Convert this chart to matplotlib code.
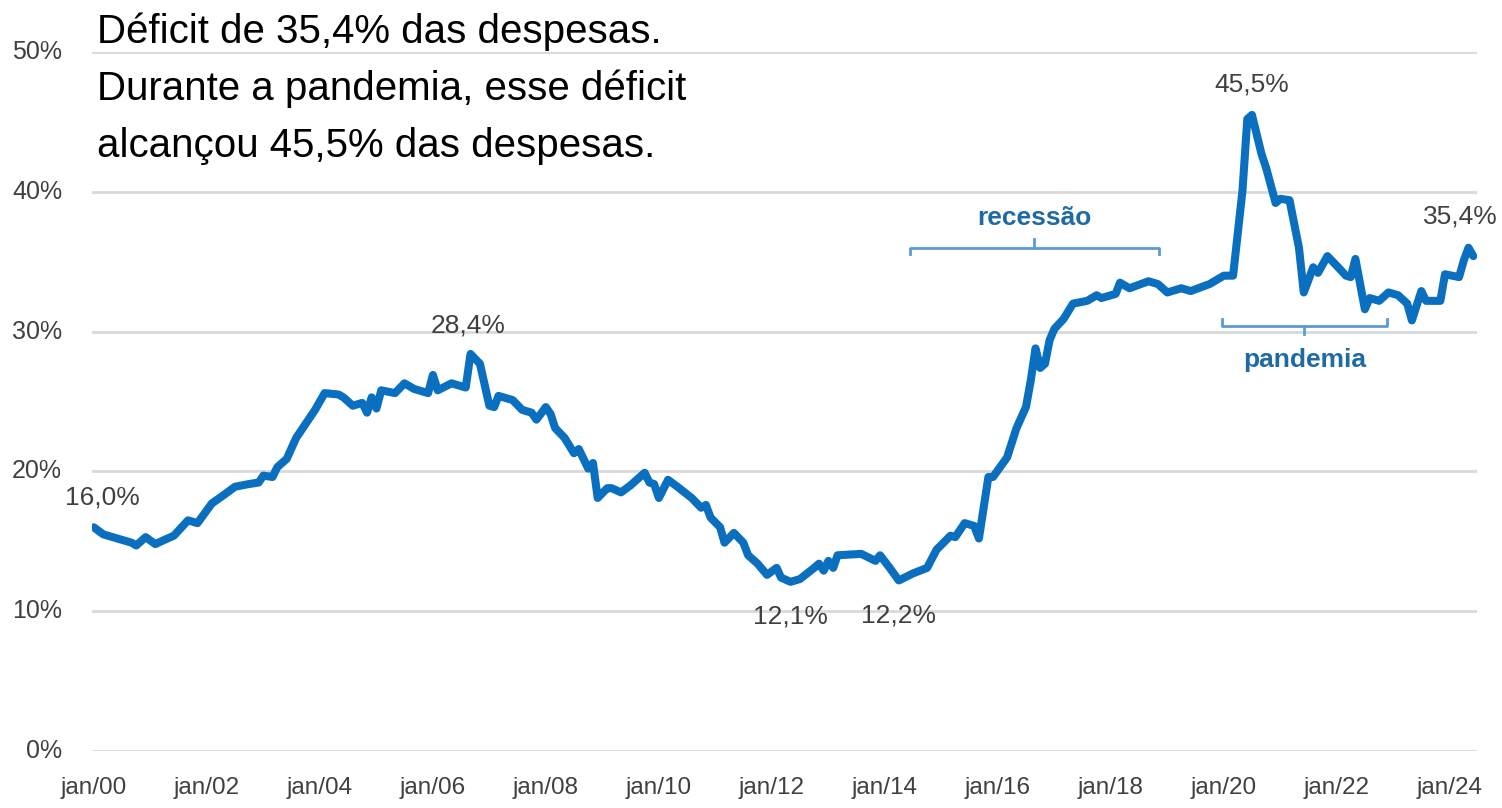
"""Déficit como % das despesas, série mensal 2000-2024."""

import matplotlib

matplotlib.use("Agg")
import matplotlib.pyplot as plt
import pandas as pd

# Valores (mês, % das despesas)
months = [
    "2000-01", "2000-03", "2000-05", "2000-09", "2000-10", "2000-12",
    "2001-02", "2001-04", "2001-06", "2001-09", "2001-11",
    "2002-02", "2002-05", "2002-07", "2002-10", "2002-12",
    "2003-01", "2003-03", "2003-04", "2003-06", "2003-08", "2003-10", "2003-12",
    "2004-02", "2004-05", "2004-06", "2004-08", "2004-10", "2004-11", "2004-12",
    "2005-01", "2005-02", "2005-05", "2005-07", "2005-09", "2005-12",
    "2006-01", "2006-02", "2006-05", "2006-08", "2006-09", "2006-11",
    "2007-01", "2007-02", "2007-03", "2007-06", "2007-08", "2007-10", "2007-11",
    "2008-01", "2008-02", "2008-03", "2008-05", "2008-07", "2008-08", "2008-10",
    "2008-11", "2008-12",
    "2009-02", "2009-03", "2009-05", "2009-07", "2009-10", "2009-11", "2009-12",
    "2010-01", "2010-03", "2010-05", "2010-08", "2010-10", "2010-11", "2010-12",
    "2011-02", "2011-03", "2011-05", "2011-07", "2011-08", "2011-10", "2011-12",
    "2012-02", "2012-03", "2012-05", "2012-07", "2012-10", "2012-11", "2012-12",
    "2013-01", "2013-02", "2013-03", "2013-08", "2013-11", "2013-12",
    "2014-02", "2014-04", "2014-07", "2014-10", "2014-12",
    "2015-03", "2015-04", "2015-06", "2015-08", "2015-09", "2015-11", "2015-12",
    "2016-03", "2016-05", "2016-07", "2016-08", "2016-09", "2016-10", "2016-11",
    "2016-12",
    "2017-01", "2017-03", "2017-05", "2017-08", "2017-10", "2017-11",
    "2018-02", "2018-03", "2018-05", "2018-09", "2018-11",
    "2019-01", "2019-04", "2019-06", "2019-10",
    "2020-01", "2020-03", "2020-05", "2020-06", "2020-07", "2020-09", "2020-10",
    "2020-12",
    "2021-01", "2021-03", "2021-05", "2021-06", "2021-08", "2021-09", "2021-11",
    "2022-01", "2022-03", "2022-04", "2022-05", "2022-07", "2022-08", "2022-10",
    "2022-12",
    "2023-02", "2023-04", "2023-05", "2023-07", "2023-08", "2023-11", "2023-12",
    "2024-03", "2024-04", "2024-05", "2024-06",
]
deficit = [
    16.0, 15.5, 15.3, 14.9, 14.7, 15.3,
    14.8, 15.1, 15.4, 16.5, 16.3,
    17.7, 18.4, 18.9, 19.1, 19.2,
    19.7, 19.6, 20.3, 20.9, 22.4, 23.4, 24.4,
    25.6, 25.5, 25.3, 24.7, 24.9, 24.2, 25.3,
    24.5, 25.8, 25.6, 26.3, 25.9, 25.6,
    26.9, 25.8, 26.3, 26.0, 28.4, 27.7,
    24.7, 24.6, 25.4, 25.1, 24.4, 24.2, 23.7,
    24.6, 24.1, 23.1, 22.4, 21.3, 21.6, 20.2,
    20.6, 18.1,
    18.8, 18.8, 18.5, 19.0, 19.9, 19.2, 19.1,
    18.1, 19.4, 18.9, 18.1, 17.4, 17.6, 16.7,
    16.0, 14.9, 15.6, 14.9, 14.0, 13.4, 12.6,
    13.1, 12.4, 12.1, 12.3, 13.1, 13.4, 12.9,
    13.6, 13.1, 14.0, 14.1, 13.6, 14.0,
    13.1, 12.2, 12.7, 13.1, 14.4,
    15.4, 15.3, 16.3, 16.1, 15.2, 19.6, 19.6,
    21.0, 23.1, 24.6, 26.5, 28.8, 27.4, 27.7,
    29.4,
    30.2, 30.9, 32.0, 32.2, 32.6, 32.4,
    32.7, 33.5, 33.1, 33.6, 33.4,
    32.8, 33.1, 32.9, 33.4,
    34.0, 34.0, 40.1, 45.2, 45.5, 42.7, 41.7,
    39.2,
    39.5, 39.4, 36.0, 32.8, 34.6, 34.2, 35.4,
    34.7, 34.0, 33.9, 35.2, 31.6, 32.4, 32.2,
    32.8,
    32.6, 32.0, 30.8, 32.9, 32.2, 32.2, 34.1,
    33.9, 35.1, 36.0, 35.4,
]

# Rótulos de destaque: (mês, texto, deslocamento em pixels)
highlights = [
    ("2000-01", "16,0%", (9, 30)),
    ("2006-09", "28,4%", (-2, 28)),
    ("2012-05", "12,1%", (0, -35)),
    ("2014-04", "12,2%", (0, -35)),
    ("2020-07", "45,5%", (0, 30)),
    ("2024-06", "35,4%", (-13, 40)),
]

y_ticks = [0, 10, 20, 30, 40, 50]
x_tick_years = list(range(2000, 2025, 2))

title_lines = [
    "Déficit de 35,4% das despesas.",
    "Durante a pandemia, esse déficit",
    "alcançou 45,5% das despesas.",
]

LINE_COLOR = "#0b6fc0"
LABEL_COLOR = "#404040"
NOTE_COLOR = "#1f6aa5"
BRACKET_COLOR = "#5b9bd5"

plt.rcParams["font.family"] = ["Liberation Sans", "DejaVu Sans"]

dates = pd.to_datetime(months)
series = pd.Series(deficit, index=dates)

fig = plt.figure(figsize=(15.02, 8.08), dpi=100)
fig.patch.set_facecolor("white")
ax = fig.add_axes([92 / 1502, 57 / 808, (1477 - 92) / 1502, (751 - 52) / 808])

ax.plot(series.index, series.values, color=LINE_COLOR, linewidth=5.8,
        solid_joinstyle="round", solid_capstyle="round", zorder=3)

ax.set_xlim(pd.Timestamp("1999-12-20"), pd.Timestamp("2024-06-25"))
ax.set_ylim(0, 50)
ax.set_yticks(y_ticks)
ax.set_yticklabels([f"{v}%" for v in y_ticks])
ax.set_xticks([pd.Timestamp(f"{y}-01-01") for y in x_tick_years])
ax.set_xticklabels([f"jan/{y % 100:02d}" for y in x_tick_years])
ax.grid(axis="y", color="#d9d9d9", linewidth=2)
ax.set_axisbelow(True)
for spine in ax.spines.values():
    spine.set_visible(False)
ax.tick_params(axis="both", length=0, labelcolor=LABEL_COLOR)
ax.tick_params(axis="y", labelsize=18, pad=21.5)
ax.tick_params(axis="x", labelsize=17.5, pad=19)
for lbl in ax.get_yticklabels():
    lbl.set_verticalalignment("center")

for month, text, offset in highlights:
    when = pd.Timestamp(month)
    ax.annotate(text, (when, series[when]), xytext=offset,
                textcoords="offset pixels", ha="center", va="center",
                fontsize=19, color=LABEL_COLOR, annotation_clip=False)


def bracket(x0, x1, y, arm, tick, label, label_y):
    xs = [pd.Timestamp(x0), pd.Timestamp(x1)]
    mid = xs[0] + (xs[1] - xs[0]) / 2
    ax.plot([xs[0], xs[0], xs[1], xs[1]], [y + arm, y, y, y + arm],
            color=BRACKET_COLOR, linewidth=2, solid_joinstyle="round")
    ax.plot([mid, mid], [y, y + tick], color=BRACKET_COLOR, linewidth=2)
    ax.text(mid, label_y, label, ha="center", va="center", fontsize=19,
            fontweight="bold", color=NOTE_COLOR)


bracket("2014-06-10", "2018-11-05", 36.0, -0.45, 0.6, "recessão", 38.1)
bracket("2019-12-20", "2022-11-20", 30.4, 0.5, -0.55, "pandemia", 27.95)

for i, line in enumerate(title_lines):
    fig.text(97 / 1502, 1 - (43 + 57 * i) / 808, line, fontsize=29,
             color="black", ha="left", va="baseline")

fig.savefig("out.png", dpi=100, facecolor="white")
